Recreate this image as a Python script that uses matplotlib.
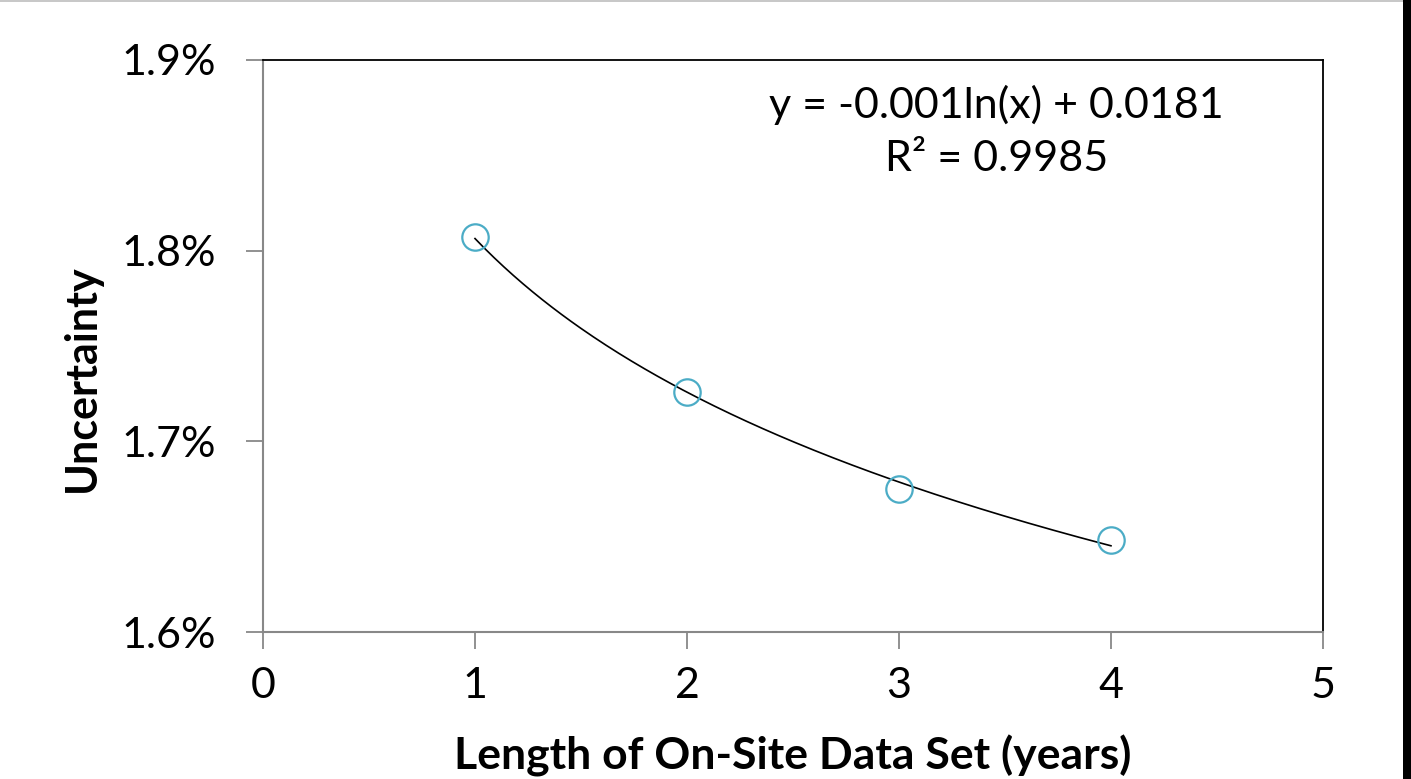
import numpy as np
import matplotlib.pyplot as plt
from matplotlib.patches import Rectangle

# data
years = [1, 2, 3, 4]
uncertainty = [0.01807, 0.01726, 0.01675, 0.01648]
equation_text = "y = -0.001ln(x) + 0.0181\nR² = 0.9985"
y_ticks = [0.016, 0.017, 0.018, 0.019]
y_tick_labels = ["1.6%", "1.7%", "1.8%", "1.9%"]
x_ticks = [0, 1, 2, 3, 4, 5]

plt.rcParams['font.family'] = ['Lato', 'DejaVu Sans']

fig = plt.figure(figsize=(14.11, 7.79), dpi=100)
ax = fig.add_axes([0.1864, 0.1887, 0.9376 - 0.1864, 0.923 - 0.1887])

# log trendline fitted to the points
a, b = np.polyfit(np.log(years), uncertainty, 1)
xs = np.linspace(min(years), max(years), 200)
ax.plot(xs, a * np.log(xs) + b, color="black", lw=1.2, zorder=2)

ax.plot(years, uncertainty, linestyle="none", marker="o", markersize=19,
        markerfacecolor="none", markeredgecolor="#4BACC6", markeredgewidth=1.6, zorder=3)

ax.set_xlim(0, 5)
ax.set_ylim(0.016, 0.019)
ax.set_xticks(x_ticks)
ax.set_yticks(y_ticks)
ax.set_yticklabels(y_tick_labels)
ax.tick_params(axis="both", labelsize=31, colors="#888888", labelcolor="black",
               length=12, width=1.3, direction="out")
ax.tick_params(axis="x", pad=13)
ax.tick_params(axis="y", pad=22)

for side in ["left", "bottom"]:
    ax.spines[side].set_color("#888888")
    ax.spines[side].set_linewidth(1.5)
for side in ["top", "right"]:
    ax.spines[side].set_color("black")
    ax.spines[side].set_linewidth(1.3)

ax.set_xlabel("Length of On-Site Data Set (years)", fontsize=32, fontweight="bold", labelpad=22)
ax.set_ylabel("Uncertainty", fontsize=31, fontweight="bold")
ax.yaxis.set_label_coords(-0.152, 0.444)

ax.text(0.692, 0.875, equation_text, transform=ax.transAxes, ha="center", va="center",
        fontsize=31, linespacing=1.5)

# frame bits around the image
fig.add_artist(Rectangle((1403 / 1411, 0), 8 / 1411, 1, transform=fig.transFigure,
                         color="black", lw=0))
fig.add_artist(Rectangle((0, 1 - 2 / 779), 1403 / 1411, 2 / 779, transform=fig.transFigure,
                         color="#c8c8c8", lw=0))

fig.savefig("out.png", dpi=100)
